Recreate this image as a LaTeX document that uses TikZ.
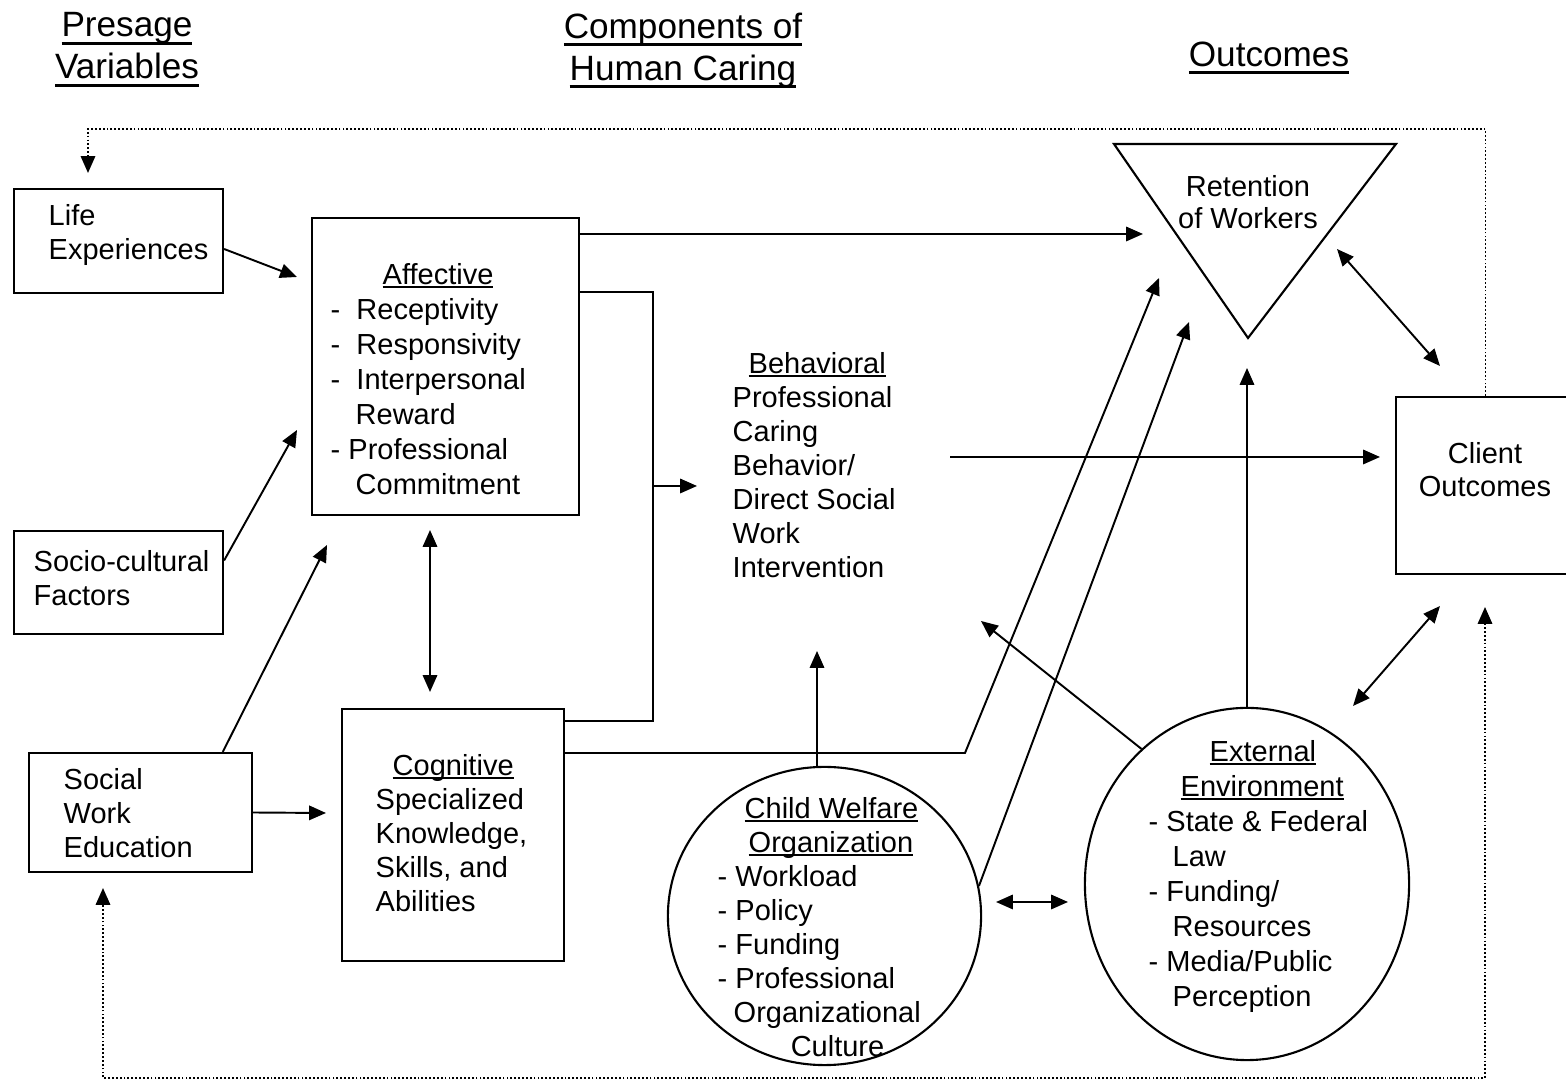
\documentclass[tikz,border=0pt]{standalone}
\usepackage{fontspec}
\setmainfont{Liberation Sans}
\usetikzlibrary{arrows.meta,shapes.geometric}
\newcommand{\undl}[1]{\leavevmode\setbox0\hbox{#1}\rlap{\rule[-1pt]{\wd0}{0.55pt}}\box0}
\newcommand{\hdul}[1]{\leavevmode\setbox0\hbox{#1}\rlap{\rule[-2.2pt]{\wd0}{0.8pt}}\box0}

\begin{document}
\begin{tikzpicture}[x=0.01cm, y=-0.01cm,
  box/.style={draw, line width=0.6pt, inner sep=0pt},
  blob/.style={draw, ellipse, line width=0.6pt, inner sep=0pt},
  txt/.style={inner sep=0pt, align=left, anchor=north west,
              font=\fontsize{8.25}{9.67}\selectfont},
  ctxt/.style={txt, align=center, anchor=north},
  head/.style={inner sep=0pt, align=center, anchor=north,
               font=\fontsize{10}{11.95}\selectfont},
  arr/.style={-{Triangle[length=4.8pt, width=4.1pt]}, line width=0.55pt},
  darr/.style={{Triangle[length=4.8pt, width=4.1pt]}-{Triangle[length=4.8pt, width=4.1pt]}, line width=0.55pt},
  dots/.style={dash pattern=on 0.5pt off 0.6pt, line width=0.45pt}
]
  \useasboundingbox (0,0) rectangle (1566,1080);

  % column headings
  \node[head] (hPre) at (127,12) {\hdul{Presage}\\\hdul{Variables}};
  \node[head] (hComp) at (683,12) {\hdul{Components of}\\\hdul{Human Caring}};
  \node[head] (hOut) at (1269,41) {\hdul{Outcomes}};

  % shapes
  \node[box, minimum width=2.09cm, minimum height=1.04cm] (life) at (118.5,241) {};
  \node[box, minimum width=2.09cm, minimum height=1.03cm] (socio) at (118.5,582.5) {};
  \node[box, minimum width=2.225cm, minimum height=1.19cm] (swe) at (140.75,812.5) {};
  \node[box, minimum width=2.67cm, minimum height=2.97cm] (aff) at (445.5,366.5) {};
  \node[box, minimum width=2.22cm, minimum height=2.52cm] (cog) at (453,835) {};
  \node[box, minimum width=1.79cm, minimum height=1.77cm] (client) at (1485.5,485.5) {};
  \node[blob, minimum width=3.13cm, minimum height=2.98cm] (cw) at (824.5,916) {};
  \node[blob, minimum width=3.24cm, minimum height=3.52cm] (ext) at (1247,884) {};
  \draw[line width=0.6pt] (1114,144) -- (1396,144) -- (1248,338) -- cycle;

  % texts
  \node[txt] (lifeT) at (48,204) {Life\\Experiences};
  \node[txt] (socioT) at (33,550) {Socio-cultural\\Factors};
  \node[txt] (sweT) at (63,768) {Social\\Work\\Education};
  \node[txt, font=\fontsize{8.25}{9.96}\selectfont] (affT) at (330,263)
    {\hspace*{0.52cm}\undl{Affective}\\-\ \ Receptivity\\-\ \ Responsivity\\-\ \ Interpersonal\\\hspace*{0.25cm}Reward\\-\ Professional\\\hspace*{0.25cm}Commitment};
  \node[txt] (cogT) at (375,754)
    {\hspace*{0.17cm}\undl{Cognitive}\\Specialized\\Knowledge,\\Skills, and\\Abilities};
  \node[txt] (behT) at (732,352)
    {\hspace*{0.16cm}\undl{Behavioral}\\Professional\\Caring\\Behavior/\\Direct Social\\Work\\Intervention};
  \node[txt] (cwT) at (717,797)
    {\hspace*{0.27cm}\undl{Child Welfare}\\\hspace*{0.31cm}\undl{Organization}\\-\ Workload\\-\ Policy\\-\ Funding\\-\ Professional\\\hspace*{0.16cm}Organizational\\\hspace*{0.73cm}Culture};
  \node[txt, font=\fontsize{8.25}{9.96}\selectfont] (extT) at (1148,740)
    {\hspace*{0.61cm}\undl{External}\\\hspace*{0.32cm}\undl{Environment}\\-\ State \& Federal\\\hspace*{0.24cm}Law\\-\ Funding/\\\hspace*{0.24cm}Resources\\-\ Media/Public\\\hspace*{0.24cm}Perception};
  \node[ctxt, font=\fontsize{8.25}{9.1}\selectfont] (retT) at (1248,175) {Retention\\of Workers};
  \node[ctxt, font=\fontsize{8.25}{9.4}\selectfont] (cliT) at (1485,442) {Client\\Outcomes};

  % free ends
  \coordinate (pAff1) at (297,277);
  \coordinate (pAff2) at (297,430);
  \coordinate (pAff3) at (327,545);
  \coordinate (pCog1) at (326,813);
  \coordinate (pAffDn) at (430,530);
  \coordinate (pCogUp) at (430,692);
  \coordinate (brTop) at (653,292);
  \coordinate (brBot) at (653,721);
  \coordinate (pBeh1) at (697,486);
  \coordinate (pBend) at (965,753);
  \coordinate (pRet1) at (1143,234);
  \coordinate (pRet2) at (1159,278);
  \coordinate (pRet3) at (1189,322);
  \coordinate (pRet4) at (1247,368);
  \coordinate (pRet5) at (1337,249);
  \coordinate (pCli1) at (1440,366);
  \coordinate (pBehOut) at (950,457);
  \coordinate (pCli2) at (1380,457);
  \coordinate (pBeh2) at (981,621);
  \coordinate (pBeh3) at (817,651);
  \coordinate (pCw) at (996,902);
  \coordinate (pExt1) at (1068,902);
  \coordinate (pExt2) at (1353,706);
  \coordinate (pCli3) at (1440,606);
  \coordinate (pCli4) at (1485,607);
  \coordinate (pLife) at (88,173);
  \coordinate (pTopL) at (88,129);
  \coordinate (pBotR) at (1485,1078);
  \coordinate (pBotL) at (103,1078);
  \coordinate (pSwe) at (103,888);

  % connectors
  \draw[arr] ([yshift=-0.08cm]life.east) -- (pAff1);
  \draw[arr] ([yshift=0.22cm]socio.east) -- (pAff2);
  \draw[arr] ([xshift=0.82cm]swe.north) -- (pAff3);
  \draw[arr] (swe.east) -- (pCog1);
  \draw[darr] (pAffDn) -- (pCogUp);
  \draw[arr] (aff.east |- pRet1) -- (pRet1);
  \draw[line width=0.55pt] (aff.east |- brTop) -- (brTop) -- (brBot) -- (cog.east |- brBot);
  \draw[arr] (brTop |- pBeh1) -- (pBeh1);
  \draw[arr] (cog.east |- pBend) -- (pBend) -- (pRet2);
  \draw[arr] (cw.11) -- (pRet3);
  \draw[arr] ([xshift=-0.075cm]cw.north) -- (pBeh3);
  \draw[arr] (ext.north) -- (pRet4);
  \draw[arr] (ext.128) -- (pBeh2);
  \draw[darr] (pCw) -- (pExt1);
  \draw[darr] (pExt2) -- (pCli3);
  \draw[arr] (pBehOut) -- (pCli2);
  \draw[darr] (pRet5) -- (pCli1);
  \draw[dots, arr] (client.north) |- (pTopL) -- (pLife);
  \draw[dots, darr] (pCli4) -- (pBotR) -- (pBotL) -- (pSwe);
\end{tikzpicture}
\end{document}
